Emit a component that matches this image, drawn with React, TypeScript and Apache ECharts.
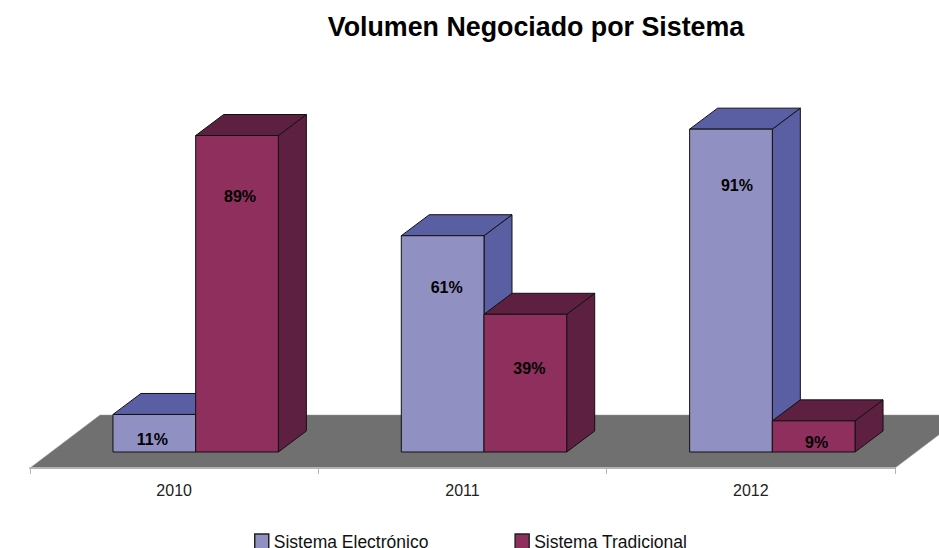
import React, { useEffect, useRef } from "react";
import * as echarts from "echarts";

const title = "Volumen Negociado por Sistema";
const categories = ["2010", "2011", "2012"];
const electronico = [10.6, 61.1, 91.2];
const tradicional = [89.4, 38.9, 8.8];
const electronicoName = "Sistema Electrónico";
const tradicionalName = "Sistema Tradicional";

// Layout only: where each label sits relative to the front face of its bar.
const electronicoLabelDrop = [25, 52, 56];
const tradicionalLabelDrop = [61, 54, 22];
const electronicoLabelShift = [-2, 4, 6];
const tradicionalLabelShift = [3, 4, 3];

const BAR_W = 82.7;
const DEPTH_X = 28;
const DEPTH_Y = 21;
const SHIFT_X = 21.5;
const FLOOR_FRONT = 16;
const FLOOR_DX = 70;
const FLOOR_DY = 53;

const FONT = '"Liberation Sans", Arial, sans-serif';

function barRenderer(side: number, front: string, shade: string, drops: number[], shifts: number[]) {
  return (params: any, api: any) => {
    const i = api.value(0);
    const v = api.value(1);
    const top = api.coord([i, v]);
    const base = api.coord([i, 0]);
    const cx = top[0] + SHIFT_X;
    const x0 = side < 0 ? cx - BAR_W : cx;
    const x1 = x0 + BAR_W;
    const y0 = top[1];
    const y1 = base[1];
    const edge = { stroke: "#111", lineWidth: 1, lineJoin: "round" };
    return {
      type: "group",
      children: [
        {
          type: "polygon",
          shape: { points: [[x1, y0], [x1 + DEPTH_X, y0 - DEPTH_Y], [x1 + DEPTH_X, y1 - DEPTH_Y], [x1, y1]] },
          style: { fill: shade, ...edge },
        },
        {
          type: "polygon",
          shape: { points: [[x0, y0], [x0 + DEPTH_X, y0 - DEPTH_Y], [x1 + DEPTH_X, y0 - DEPTH_Y], [x1, y0]] },
          style: { fill: shade, ...edge },
        },
        {
          type: "rect",
          shape: { x: x0, y: y0, width: BAR_W, height: y1 - y0 },
          style: { fill: front, ...edge },
        },
        {
          type: "text",
          x: (x0 + x1) / 2 + shifts[params.dataIndex],
          y: y0 + drops[params.dataIndex],
          style: {
            text: Math.round(v) + "%",
            fill: "#000",
            font: `bold 16px ${FONT}`,
            textAlign: "center",
            textVerticalAlign: "middle",
          },
        },
      ],
    };
  };
}

function floorRenderer(params: any, api: any) {
  const cs = params.coordSys;
  const y = api.coord([0, 0])[1] + FLOOR_FRONT;
  const l = cs.x;
  const r = cs.x + cs.width;
  return {
    type: "polygon",
    shape: { points: [[l, y], [l + FLOOR_DX, y - FLOOR_DY], [r + FLOOR_DX, y - FLOOR_DY], [r, y]] },
    style: { fill: "#707070", stroke: "#9a9a9a", lineWidth: 0.5 },
  };
}

export default function App() {
  const ref = useRef<HTMLDivElement>(null);
  useEffect(() => {
    document.body.style.margin = "0";
    const chart = echarts.init(ref.current!, null, { renderer: "svg" });
    chart.setOption({
      animation: false,
      backgroundColor: "#ffffff",
      title: {
        text: title,
        left: 531,
        top: 8,
        textAlign: "center",
        textStyle: { fontFamily: FONT, fontSize: 26.8, fontWeight: "bold", color: "#000" },
      },
      legend: {
        data: [electronicoName, tradicionalName],
        left: 254,
        top: 533,
        padding: 0,
        itemWidth: 14,
        itemHeight: 16,
        itemGap: 86,
        icon: "rect",
        textStyle: { fontFamily: FONT, fontSize: 17.5, color: "#111" },
        itemStyle: { borderColor: "#222", borderWidth: 1.5 },
      },
      grid: { left: 30, width: 865, top: 98, height: 354 },
      xAxis: {
        type: "category",
        data: categories,
        offset: FLOOR_FRONT,
        z: 5,
        axisLine: { show: true, onZero: false, lineStyle: { color: "#b4b4b4", width: 2 } },
        axisTick: { show: true, length: 6, lineStyle: { color: "#b4b4b4", width: 1 } },
        axisLabel: { fontFamily: FONT, fontSize: 16, color: "#222", margin: 14 },
      },
      yAxis: { type: "value", min: 0, max: 100, show: false },
      series: [
        {
          name: "floor",
          type: "custom",
          clip: false,
          silent: true,
          z: 1,
          data: [[0, 0]],
          encode: { x: 0, y: 1 },
          renderItem: floorRenderer,
        },
        {
          name: electronicoName,
          type: "custom",
          clip: false,
          z: 2,
          itemStyle: { color: "#9090c2" },
          encode: { x: 0, y: 1 },
          data: electronico.map((v, i) => [i, v]),
          renderItem: barRenderer(-1, "#9090c2", "#5a5ea2", electronicoLabelDrop, electronicoLabelShift),
        },
        {
          name: tradicionalName,
          type: "custom",
          clip: false,
          z: 3,
          itemStyle: { color: "#8f2f5e" },
          encode: { x: 0, y: 1 },
          data: tradicional.map((v, i) => [i, v]),
          renderItem: barRenderer(1, "#8f2f5e", "#5e2040", tradicionalLabelDrop, tradicionalLabelShift),
        },
      ],
    });
    return () => chart.dispose();
  }, []);
  return <div ref={ref} style={{ width: 939, height: 548 }} />;
}
